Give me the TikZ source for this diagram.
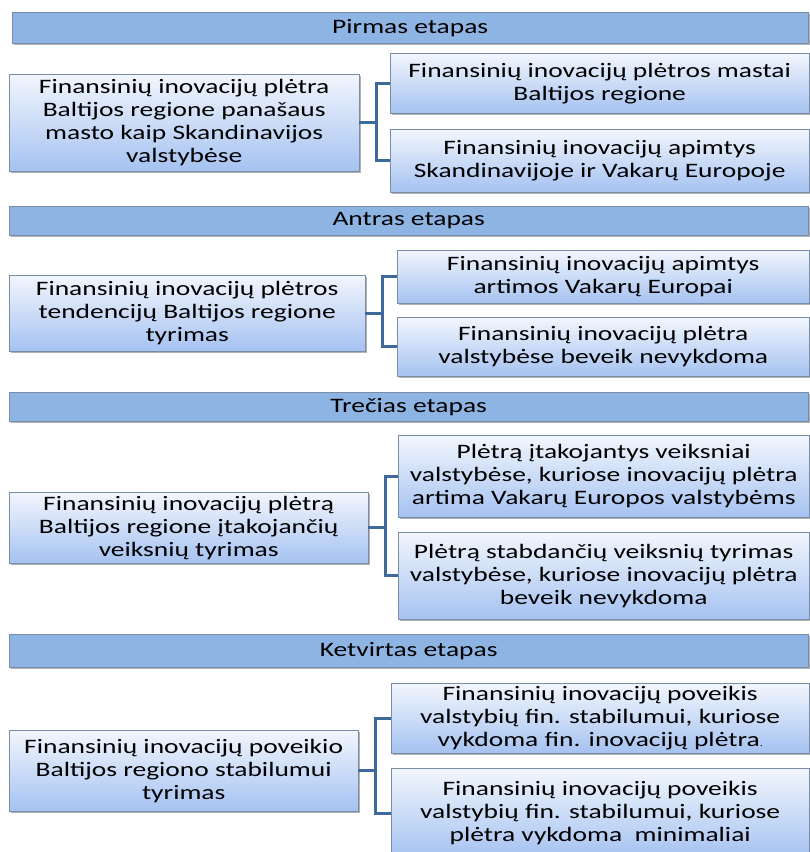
\documentclass[tikz,border=0pt]{standalone}
\usepackage{fontspec}
\setmainfont{Carlito}[FakeStretch=1.34]
\usetikzlibrary{shadows}
\definecolor{stageBlue}{RGB}{142,180,227}
\definecolor{boxTop}{RGB}{242,246,253}
\definecolor{boxBottom}{RGB}{165,194,241}
\definecolor{edgeGray}{RGB}{122,140,166}
\definecolor{linkBlue}{RGB}{62,106,155}

\begin{document}
\begin{tikzpicture}[x=1pt, y=-1pt,
    every node/.style={anchor=north west, inner sep=0pt, align=center,
      font=\fontsize{20.5}{23}\selectfont, draw=edgeGray,
      drop shadow={shadow xshift=1.5pt, shadow yshift=-1.5pt, fill=black, opacity=0.3}},
    stage/.style={fill=stageBlue},
    card/.style={top color=boxTop, bottom color=boxBottom},
    link/.style={linkBlue, line width=3pt}]
    \useasboundingbox (0,0) rectangle (810,852);
    \clip (0,0) rectangle (810,852);
    \node[stage, minimum width=796pt, minimum height=31pt] (head1) at (12,12) {Pirmas etapas};
    \node[card, minimum width=350pt, minimum height=97pt] (task1) at (9,74)
      {Finansinių inovacijų plėtra\\ Baltijos regione panašaus\\ masto kaip Skandinavijos\\ valstybėse};
    \node[card, minimum width=419pt, minimum height=60pt] (upper1) at (390,53)
      {Finansinių inovacijų plėtros mastai\\ Baltijos regione};
    \node[card, minimum width=419pt, minimum height=63pt] (lower1) at (390,129)
      {Finansinių inovacijų apimtys\\ Skandinavijoje ir Vakarų Europoje};
    \node[stage, minimum width=799pt, minimum height=29pt] (head2) at (9,206) {Antras etapas};
    \node[card, minimum width=356pt, minimum height=76pt] (task2) at (9,275)
      {Finansinių inovacijų plėtros\\ tendencijų Baltijos regione\\ tyrimas};
    \node[card, minimum width=412pt, minimum height=53pt] (upper2) at (397,250)
      {Finansinių inovacijų apimtys\\ artimos Vakarų Europai};
    \node[card, minimum width=412pt, minimum height=59pt] (lower2) at (397,317)
      {Finansinių inovacijų plėtra\\ valstybėse beveik nevykdoma};
    \node[stage, minimum width=799pt, minimum height=29pt] (head3) at (9,392) {Trečias etapas};
    \node[card, minimum width=359pt, minimum height=71pt] (task3) at (9,492)
      {Finansinių inovacijų plėtrą\\ Baltijos regione įtakojančių\\ veiksnių tyrimas};
    \node[card, minimum width=411pt, minimum height=82pt] (upper3) at (398,435)
      {Plėtrą įtakojantys veiksniai\\ valstybėse, kuriose inovacijų plėtra\\ artima Vakarų Europos valstybėms};
    \node[card, minimum width=411pt, minimum height=87pt] (lower3) at (398,532)
      {Plėtrą stabdančių veiksnių tyrimas\\ valstybėse, kuriose inovacijų plėtra\\ beveik nevykdoma};
    \node[stage, minimum width=799pt, minimum height=33pt] (head4) at (9,634) {Ketvirtas etapas};
    \node[card, minimum width=349pt, minimum height=81pt] (task4) at (9,730)
      {Finansinių inovacijų poveikio\\ Baltijos regiono stabilumui\\ tyrimas};
    \node[card, minimum width=418pt, minimum height=70pt] (upper4) at (391,683)
      {Finansinių inovacijų poveikis\\ valstybių fin. stabilumui, kuriose\\ vykdoma fin. inovacijų plėtra{\small .}};
    \node[card, minimum width=418pt, minimum height=90pt] (lower4) at (391,768)
      {Finansinių inovacijų poveikis\\ valstybių fin. stabilumui, kuriose\\ plėtra vykdoma\ \ minimaliai};
    \foreach \i in {1,...,4} {
        \draw[link] (task\i.east) -- ++(17,0) |- (upper\i.west);
        \draw[link] (task\i.east) -- ++(17,0) |- (lower\i.west);
    }
\end{tikzpicture}
\end{document}
